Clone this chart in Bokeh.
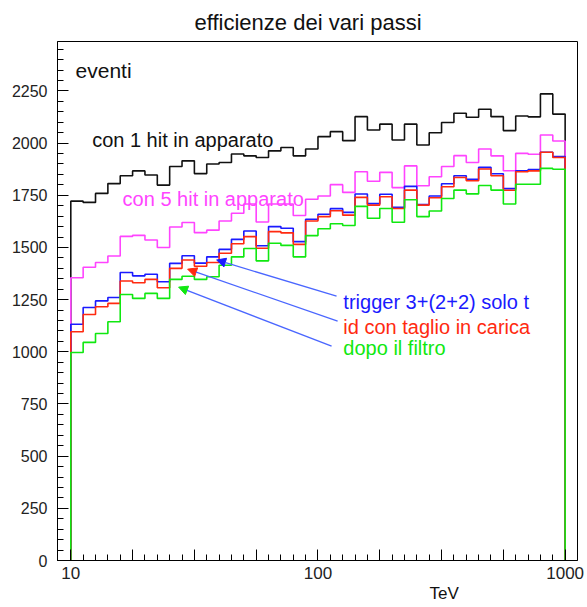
import numpy as np
from bokeh.plotting import figure
from bokeh.models import FixedTicker, CustomJSTickFormatter, Label, Arrow, NormalHead, Title
from bokeh.embed import file_html
from bokeh.resources import INLINE

# ---- data (40 log-spaced bins from 10 to 1000 TeV) ----
e_min = 10.0
e_max = 1000.0
n_bins = 40

con_1_hit = [1722, 1716, 1759, 1806, 1844, 1867, 1847, 1799, 1888, 1915,
             1854, 1900, 1907, 1948, 1939, 1931, 1963, 1979, 1939, 1972,
             2031, 2055, 2012, 2127, 2063, 2091, 2015, 2091, 1991, 2050,
             2099, 2143, 2124, 2162, 2127, 2060, 2130, 2126, 2236, 2139]
con_5_hit = [1355, 1405, 1428, 1459, 1553, 1558, 1536, 1500, 1598, 1620,
             1571, 1583, 1627, 1664, 1708, 1622, 1708, 1708, 1653, 1731,
             1747, 1801, 1764, 1863, 1817, 1860, 1787, 1891, 1796, 1839,
             1888, 1940, 1907, 1972, 1939, 1868, 1951, 1947, 2039, 2010]
trigger = [1132, 1212, 1244, 1260, 1380, 1364, 1372, 1336, 1424, 1460,
           1425, 1455, 1491, 1539, 1579, 1508, 1600, 1592, 1528, 1635,
           1659, 1686, 1668, 1756, 1710, 1755, 1692, 1793, 1706, 1747,
           1805, 1844, 1827, 1884, 1853, 1782, 1868, 1873, 1956, 1936]
id_carica = [1096, 1179, 1216, 1232, 1339, 1331, 1347, 1307, 1400, 1440,
             1410, 1428, 1472, 1518, 1552, 1496, 1576, 1570, 1515, 1627,
             1648, 1676, 1655, 1740, 1703, 1743, 1687, 1775, 1703, 1738,
             1791, 1835, 1820, 1876, 1844, 1774, 1863, 1867, 1956, 1931]
filtro = [997, 1045, 1088, 1144, 1275, 1256, 1280, 1256, 1347, 1362,
          1347, 1360, 1415, 1455, 1495, 1436, 1520, 1510, 1455, 1557,
          1590, 1614, 1605, 1697, 1640, 1687, 1621, 1729, 1648, 1675,
          1735, 1775, 1757, 1797, 1775, 1708, 1803, 1803, 1879, 1875]

series_names = ["con 1 hit in apparato", "con 5 hit in apparato",
                "trigger 3+(2+2) solo t", "id con taglio in carica", "dopo il filtro"]
y_ticks = [0, 250, 500, 750, 1000, 1250, 1500, 1750, 2000, 2250]

edges = np.logspace(np.log10(e_min), np.log10(e_max), n_bins + 1)

FONT = "Liberation Sans"

p = figure(width=587, height=607, x_axis_type="log",
           x_range=(8.835, 1122.0), y_range=(0, 2487),
           output_backend="svg", toolbar_location=None,
           min_border_left=57, min_border_right=10,
           min_border_top=41, min_border_bottom=47,
           background_fill_color="white", border_fill_color="white")
p.outline_line_color = "black"
p.outline_line_width = 1
p.xgrid.visible = False
p.ygrid.visible = False

p.title.text = "efficienze dei vari passi"
p.title.align = "left"
p.title.offset = 137
p.title.text_font = FONT
p.title.text_font_size = "22px"
p.title.text_font_style = "normal"
p.title.text_color = "#111111"
p.title.standoff = 14

# axes
xa = p.xaxis[0]
xa.ticker = FixedTicker(ticks=[10 ** (1 + 0.25 * k) for k in range(9)],
                        minor_ticks=[10 ** (1 + 0.05 * k) for k in range(41)])
xa.formatter = CustomJSTickFormatter(code="""
const l = Math.log10(tick);
return Math.abs(l - Math.round(l)) < 1e-6 ? String(Math.round(tick)) : "";
""")
ya = p.yaxis[0]
ya.ticker = FixedTicker(ticks=y_ticks, minor_ticks=list(range(0, 2501, 50)))
for ax in (xa, ya):
    ax.major_tick_in = 11
    ax.major_tick_out = 0
    ax.minor_tick_in = 6
    ax.minor_tick_out = 0
    ax.axis_line_color = "black"
    ax.major_tick_line_color = "black"
    ax.minor_tick_line_color = "black"
    ax.major_label_text_font = FONT
    ax.major_label_text_color = "#222222"
xa.major_label_text_font_size = "17px"
xa.major_label_standoff = 6
ya.major_label_text_font_size = "16px"
ya.major_label_standoff = 10

# x axis title, placed below the tick labels
p.add_layout(Title(text="TeV", align="left", offset=372, standoff=0,
                   text_font=FONT, text_font_size="17px",
                   text_font_style="normal", text_color="#111111"), "below")

# histograms drawn as outlines, in ROOT drawing order
colors = ["#111111", "#ff44ff", "#1a1aff", "#ff2a10", "#10e810"]
xs = np.repeat(edges, 2)
for vals, col in zip([con_1_hit, con_5_hit, trigger, id_carica, filtro], colors):
    ys = np.concatenate([[0], np.repeat(np.asarray(vals, float), 2), [0]])
    p.line(xs, ys, line_color=col, line_width=1.6)

# texts
def lab(text, x, y, color, size, align="left"):
    p.add_layout(Label(x=x, y=y, text=text, text_color=color, text_font=FONT,
                       text_font_size=size, text_align=align,
                       text_baseline="alphabetic"))

lab("eventi", 10.45, 2346, "#111111", "21px")
lab(series_names[0], 12.2, 2015, "#111111", "20px")
lab(series_names[1], 16.2, 1732, "#ff44ff", "20px")
lab(series_names[2], 126.7, 1237, "#1a1aff", "20px")
lab(series_names[3], 126.7, 1120, "#ff2a10", "20px")
lab(series_names[4], 126.7, 1016, "#10e810", "20px")

# arrows
arrow_specs = [((118.9, 1267), (38.9, 1440), "#1a1aff"),
               ((120.1, 1147), (29.7, 1396), "#ff2a10"),
               ((113.5, 1027), (27.3, 1310), "#10e810")]
for (xs0, ys0), (xe, ye), hc in arrow_specs:
    p.add_layout(Arrow(x_start=xs0, y_start=ys0, x_end=xe, y_end=ye,
                       line_color="#4a66ff", line_width=1.3,
                       end=NormalHead(size=9, fill_color=hc, line_color=hc)))

open("out.html", "w").write(file_html(p, INLINE))
